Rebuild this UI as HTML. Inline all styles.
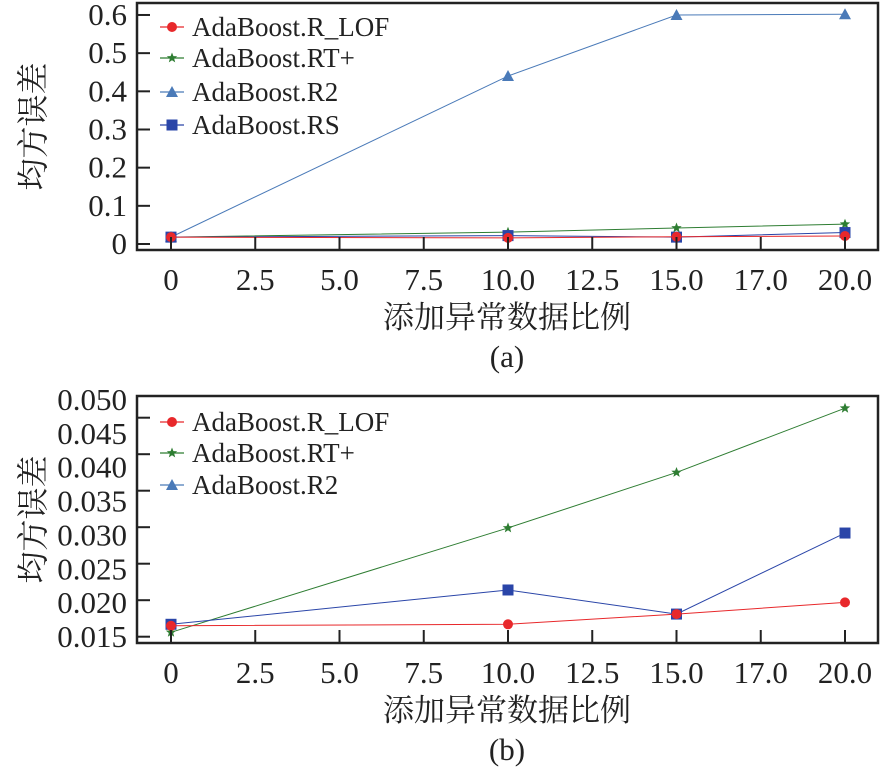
<!DOCTYPE html>
<html><head><meta charset="utf-8"><style>
body{margin:0;background:#fff}
svg text{font-family:"Liberation Serif","Noto Serif CJK SC","Times New Roman",serif}
</style></head><body>
<svg id="c" width="880" height="775" viewBox="0 0 880 775"></svg>
<script>
const xCats=[0,10,15,20];
const xTickLabels=["0","2.5","5.0","7.5","10.0","12.5","15.0","17.0","20.0"];
const xTickVals=[0,2.5,5,7.5,10,12.5,15,17.5,20];
const aLOF=[0.018,0.016,0.019,0.021];
const aRT=[0.018,0.031,0.042,0.052];
const aR2=[0.018,0.44,0.60,0.602];
const aRS=[0.018,0.022,0.018,0.030];
const aYTicks=[0,0.1,0.2,0.3,0.4,0.5,0.6];
const aYLabels=["0","0.1","0.2","0.3","0.4","0.5","0.6"];
const bLOF=[0.0165,0.0167,0.0181,0.0197];
const bRT=[0.0156,0.0299,0.0375,0.0463];
const bRS=[0.0167,0.0214,0.0181,0.0292];
const bYTicks=[0.015,0.020,0.025,0.030,0.035,0.040,0.045,0.050];
const bYLabels=["0.015","0.020","0.025","0.030","0.035","0.040","0.045","0.050"];
const NS="http://www.w3.org/2000/svg",svg=document.getElementById('c');
const FONT='"Liberation Serif","Noto Serif CJK SC",serif';
function el(t,a,p){const e=document.createElementNS(NS,t);for(const k in a)e.setAttribute(k,a[k]);if(t==='text')e.setAttribute('font-family',FONT);(p||svg).appendChild(e);return e;}
const xs=v=>171+v*(674/20);
const RED="#e8282b",GREEN="#2e7d32",LBLUE="#4a7ab8",DBLUE="#2a45a8";
function marker(g,type,x,y,c){
 if(type==='circle')el('circle',{cx:x,cy:y,r:5,fill:c},g);
 else if(type==='square')el('rect',{x:x-5.5,y:y-5.5,width:11,height:11,fill:c},g);
 else if(type==='tri')el('polygon',{points:`${x},${y-6} ${x-6},${y+5} ${x+6},${y+5}`,fill:c},g);
 else{let p=[];for(let i=0;i<10;i++){const r=i%2?2.3:5.5,a=-Math.PI/2+i*Math.PI/5;p.push((x+r*Math.cos(a)).toFixed(1)+','+(y+r*Math.sin(a)).toFixed(1));}el('polygon',{points:p.join(' '),fill:c},g);}
}
function panel(cfg){
 const g=el('g',{});
 const ys=cfg.ys;
 cfg.series.forEach(s=>{
  const sg=el('g',{},g);
  el('polyline',{points:xCats.map((x,i)=>xs(x)+','+ys(s.data[i])).join(' '),fill:'none',stroke:s.c,'stroke-width':1},sg);
  xCats.forEach((x,i)=>marker(sg,s.m,xs(x),ys(s.data[i]),s.c));
 });
 const b=el('rect',{x:137,y:cfg.top,width:741,height:cfg.bot-cfg.top,fill:'none',stroke:'#222','stroke-width':2.5},g);
 
 const yax=el('g',{},g);
 const n=cfg.yt.length;
 cfg.yt.forEach((v,i)=>{const y=ys(v);if(y>=cfg.top-1)el('line',{x1:137,x2:150,y1:y,y2:y,stroke:'#222','stroke-width':2},yax);
  const ly=cfg.labelPos?cfg.labelPos(i,n):y;
  const t=el('text',{x:127,y:ly+10,'text-anchor':'end','font-size':31,fill:'#222'},yax);t.textContent=cfg.yl[i];});
 const xax=el('g',{},g);
 xTickVals.forEach((v,i)=>{const x=xs(v);el('line',{x1:x,x2:x,y1:cfg.bot,y2:cfg.bot-13,stroke:'#222','stroke-width':2},xax);
  const t=el('text',{x:x,y:cfg.bot+40,'text-anchor':'middle','font-size':31,fill:'#222'},xax);t.textContent=xTickLabels[i];});
 let t=el('text',{x:507,y:cfg.bot+78,'text-anchor':'middle','font-size':31,fill:'#222'},g);t.textContent='添加异常数据比例';
 
 const cy=(cfg.top+cfg.bot)/2;
 t=el('text',{x:0,y:0,'text-anchor':'middle','font-size':32,fill:'#222',transform:`translate(44,${cy}) rotate(-90)`},g);t.textContent='均方误差';
 
 t=el('text',{x:507,y:cfg.bot+117,'text-anchor':'middle','font-size':31,fill:'#222'},g);t.textContent=cfg.cap;
 
 const lg=el('g',{},g);
 cfg.legend.forEach((L,i)=>{const y=cfg.ly[i];const e=el('g',{},lg);
  el('line',{x1:160,x2:184,y1:y,y2:y,stroke:L.c,'stroke-width':1.2},e);marker(e,L.m,172,y,L.c);
  const tt=el('text',{x:192,y:y+9,'font-size':27,fill:'#222'},e);tt.textContent=L.t;});
}
panel({name:'panel-a',top:3,bot:250,ys:v=>244-v*381.7,yt:aYTicks,yl:aYLabels,cap:'(a)',
 series:[{name:'series-r2',data:aR2,c:LBLUE,m:'tri'},{name:'series-rt-plus',data:aRT,c:GREEN,m:'star'},{name:'series-rs',data:aRS,c:DBLUE,m:'square'},{name:'series-r-lof',data:aLOF,c:RED,m:'circle'}],
 legend:[{t:'AdaBoost.R_LOF',c:RED,m:'circle'},{t:'AdaBoost.RT+',c:GREEN,m:'star'},{t:'AdaBoost.R2',c:LBLUE,m:'tri'},{t:'AdaBoost.RS',c:DBLUE,m:'square'}],ly:[27,58,92,125]});
panel({name:'panel-b',top:396,bot:643,ys:v=>636.7-(v-0.015)*7300,yt:bYTicks,yl:bYLabels,cap:'(b)',
 labelPos:(i,n)=>637-i*(237/(n-1)),
 series:[{name:'series-rt-plus',data:bRT,c:GREEN,m:'star'},{name:'series-rs',data:bRS,c:DBLUE,m:'square'},{name:'series-r-lof',data:bLOF,c:RED,m:'circle'}],
 legend:[{t:'AdaBoost.R_LOF',c:RED,m:'circle'},{t:'AdaBoost.RT+',c:GREEN,m:'star'},{t:'AdaBoost.R2',c:LBLUE,m:'tri'}],ly:[422,453,485]});
</script>
</body></html>
